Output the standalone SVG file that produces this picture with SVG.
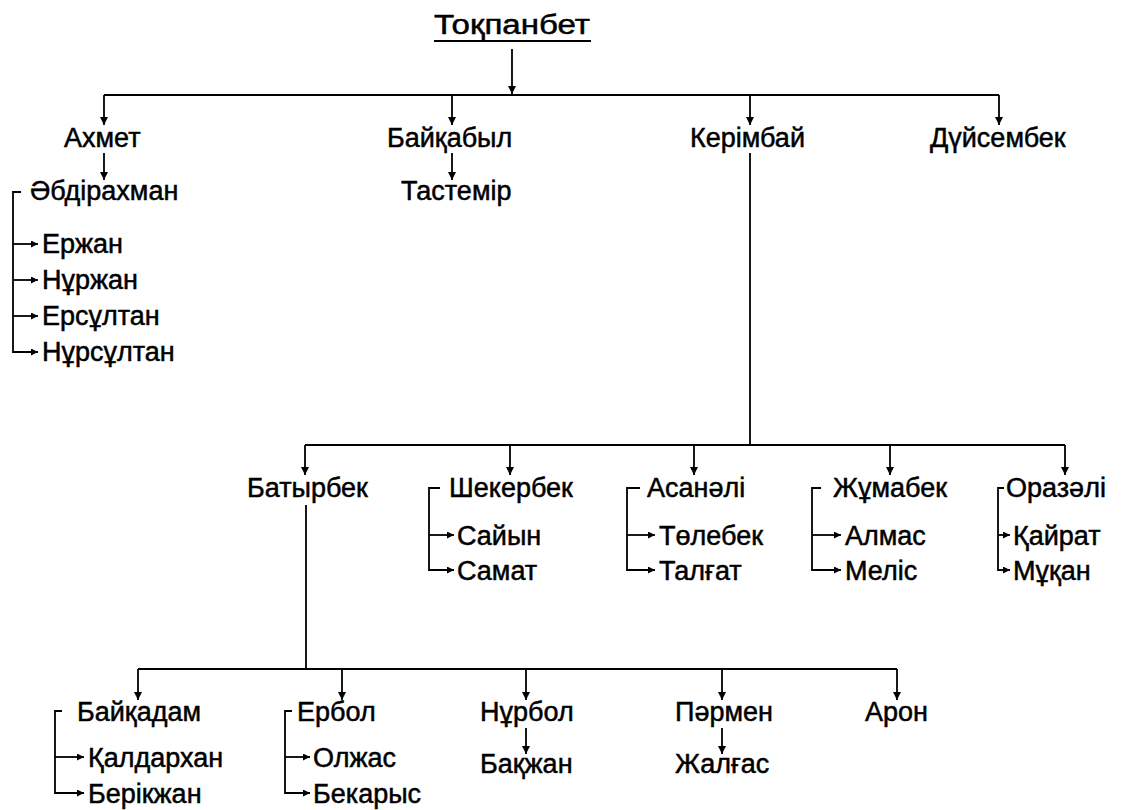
<svg xmlns="http://www.w3.org/2000/svg" width="1123" height="810" viewBox="0 0 1123 810">
<style>
  text { font-family: "Liberation Sans", Arial, sans-serif; font-size: 27px; fill: #000; stroke: #000; stroke-width: 0.5px; }
  .title { font-size: 27px; text-anchor: middle; }
  .c path, .c line { fill: none; stroke: #000; stroke-width: 1.8; }
  .dn { marker-end: url(#ahv); }
  .rt { marker-end: url(#ahh); }
</style>
<defs>
  <marker id="ahv" viewBox="0 0 10 10" refX="10" refY="5" markerWidth="10" markerHeight="8" markerUnits="userSpaceOnUse" orient="auto">
    <path d="M0,0 L10,5 L0,10 z" fill="#000"/>
  </marker>
  <marker id="ahh" viewBox="0 0 10 10" refX="10" refY="5" markerWidth="8" markerHeight="7" markerUnits="userSpaceOnUse" orient="auto">
    <path d="M0,0 L10,5 L0,10 z" fill="#000"/>
  </marker>
</defs>
<rect width="1123" height="810" fill="#fff"/>

<g id="connectors" class="c">
  <path class="dn" d="M512 49 V94"/>
  <path d="M104 95 H999"/>
  <path class="dn" d="M104 95 V125"/>
  <path class="dn" d="M452 95 V125"/>
  <path class="dn" d="M750 95 V125"/>
  <path class="dn" d="M999 95 V125"/>
  <path class="dn" d="M104 153 V180"/>
  <path class="dn" d="M452 153 V180"/>
  <path class="rt" d="M21 192 H13 V352 H38"/>
  <path class="rt" d="M13 244 H38"/>
  <path class="rt" d="M13 280 H38"/>
  <path class="rt" d="M13 316 H38"/>
  <path d="M750 153 V445"/>
  <path d="M305 445 H1065"/>
  <path class="dn" d="M305 445 V475"/>
  <path class="dn" d="M510 445 V475"/>
  <path class="dn" d="M694 445 V475"/>
  <path class="dn" d="M890 445 V475"/>
  <path class="dn" d="M1065 445 V475"/>
  <path class="rt" d="M440 488 H429 V570 H454"/>
  <path class="rt" d="M429 535 H454"/>
  <path class="rt" d="M640 488 H627 V570 H655"/>
  <path class="rt" d="M627 535 H655"/>
  <path class="rt" d="M821 488 H812 V570 H841"/>
  <path class="rt" d="M812 535 H841"/>
  <path class="rt" d="M1004 488 H998 V570 H1010"/>
  <path class="rt" d="M998 535 H1010"/>
  <path d="M306 505 V669"/>
  <path d="M138 669 H897"/>
  <path class="dn" d="M138 669 V700"/>
  <path class="dn" d="M342 669 V700"/>
  <path class="dn" d="M526 669 V700"/>
  <path class="dn" d="M722 669 V700"/>
  <path class="dn" d="M897 669 V700"/>
  <path class="rt" d="M62 711 H55 V793 H84"/>
  <path class="rt" d="M55 757 H84"/>
  <path class="rt" d="M292 711 H285 V793 H310"/>
  <path class="rt" d="M285 757 H310"/>
  <path class="dn" d="M526 728 V754"/>
  <path class="dn" d="M722 728 V754"/>
</g>

<g id="n-tokpanbet">
  <text class="title" x="512" y="34" textLength="156" lengthAdjust="spacingAndGlyphs">Тоқпанбет</text>
  <line x1="434" y1="41" x2="591" y2="41" stroke="#000" stroke-width="2"/>
</g>
<g id="n-akhmet"><text x="64" y="147">Ахмет</text></g>
<g id="n-baiqabyl"><text x="387" y="147">Байқабыл</text></g>
<g id="n-kerimbai"><text x="690" y="147">Керімбай</text></g>
<g id="n-duisembek"><text x="930" y="147">Дүйсембек</text></g>
<g id="n-abdirakhman"><text x="30" y="200">Әбдірахман</text></g>
<g id="n-tastemir"><text x="401" y="200">Тастемір</text></g>
<g id="n-erzhan"><text x="42" y="253">Ержан</text></g>
<g id="n-nurzhan"><text x="42" y="289">Нұржан</text></g>
<g id="n-ersultan"><text x="42" y="325">Ерсұлтан</text></g>
<g id="n-nursultan"><text x="42" y="361">Нұрсұлтан</text></g>

<g id="n-batyrbek"><text x="247" y="497">Батырбек</text></g>
<g id="n-shekerbek"><text x="449" y="497">Шекербек</text></g>
<g id="n-saiyn"><text x="457" y="545">Сайын</text></g>
<g id="n-samat"><text x="457" y="580">Самат</text></g>
<g id="n-asanali"><text x="647" y="497">Асанәлі</text></g>
<g id="n-tolebek"><text x="659" y="545">Төлебек</text></g>
<g id="n-talgat"><text x="659" y="580">Талғат</text></g>
<g id="n-zhumabek"><text x="833" y="497">Жұмабек</text></g>
<g id="n-almas"><text x="845" y="545">Алмас</text></g>
<g id="n-melis"><text x="845" y="580">Меліс</text></g>
<g id="n-orazali"><text x="1006" y="497">Оразәлі</text></g>
<g id="n-qairat"><text x="1013" y="545">Қайрат</text></g>
<g id="n-muqan"><text x="1013" y="580">Мұқан</text></g>

<g id="n-baiqadam"><text x="77" y="721">Байқадам</text></g>
<g id="n-qaldarkhan"><text x="88" y="767">Қалдархан</text></g>
<g id="n-berikzhan"><text x="88" y="803">Берікжан</text></g>
<g id="n-erbol"><text x="297" y="721">Ербол</text></g>
<g id="n-olzhas"><text x="313" y="767">Олжас</text></g>
<g id="n-bekarys"><text x="313" y="803">Бекарыс</text></g>
<g id="n-nurbol"><text x="480" y="721">Нұрбол</text></g>
<g id="n-baqzhan"><text x="480" y="773">Бақжан</text></g>
<g id="n-parmen"><text x="675" y="721">Пәрмен</text></g>
<g id="n-zhalgas"><text x="675" y="773">Жалғас</text></g>
<g id="n-aron"><text x="865" y="721">Арон</text></g>
</svg>
